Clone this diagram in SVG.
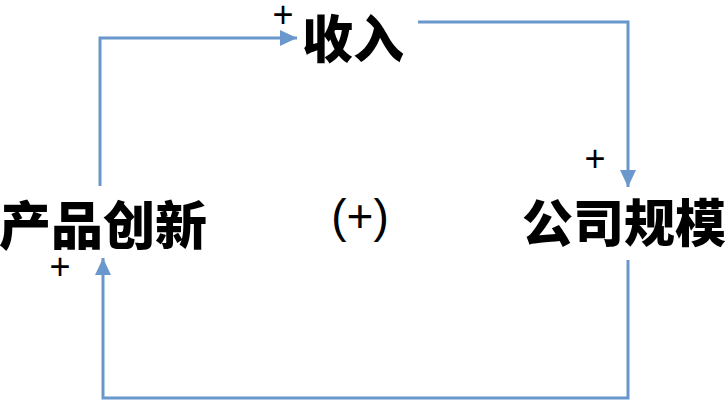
<svg xmlns="http://www.w3.org/2000/svg" width="726" height="402" viewBox="0 0 726 402">
<style>
.node{font-family:"Noto Sans CJK SC","Noto Sans",sans-serif;font-weight:900;fill:#000;dominant-baseline:central}
.sign{font-family:"Liberation Sans",Arial,sans-serif;fill:#000;text-anchor:middle;dominant-baseline:central}
.plus{font-size:36px}
.loop{font-size:46px}
.link{fill:none;stroke:#6a98cc;stroke-width:3}
</style>
<defs>
<marker id="arr" markerUnits="userSpaceOnUse" markerWidth="18" markerHeight="18" viewBox="0 0 18 18" refX="17" refY="9" orient="auto">
<path d="M0,1 L17,9 L0,17 Z" fill="#6a98cc"/>
</marker>
</defs>
<rect width="726" height="402" fill="#fff"/>
<g id="connectors">
<polyline class="link" points="100,186 100,38 297,38" marker-end="url(#arr)"/>
<polyline class="link" points="418,22 628,22 628,187" marker-end="url(#arr)"/>
<polyline class="link" points="628,260 628,398 103,398 103,258" marker-end="url(#arr)"/>
</g>
<g id="node-income"><text class="node" x="302" y="36" font-size="51">收入</text></g>
<g id="node-scale"><text class="node" x="522" y="220" font-size="51">公司规模</text></g>
<g id="node-innovation"><text class="node" x="-1" y="222" font-size="52">产品创新</text></g>
<g id="signs">
<text class="sign plus" x="283" y="14">+</text>
<text class="sign plus" x="595" y="158">+</text>
<text class="sign plus" x="60" y="266">+</text>
<text class="sign loop" x="360" y="216">(+)</text>
</g>
</svg>
